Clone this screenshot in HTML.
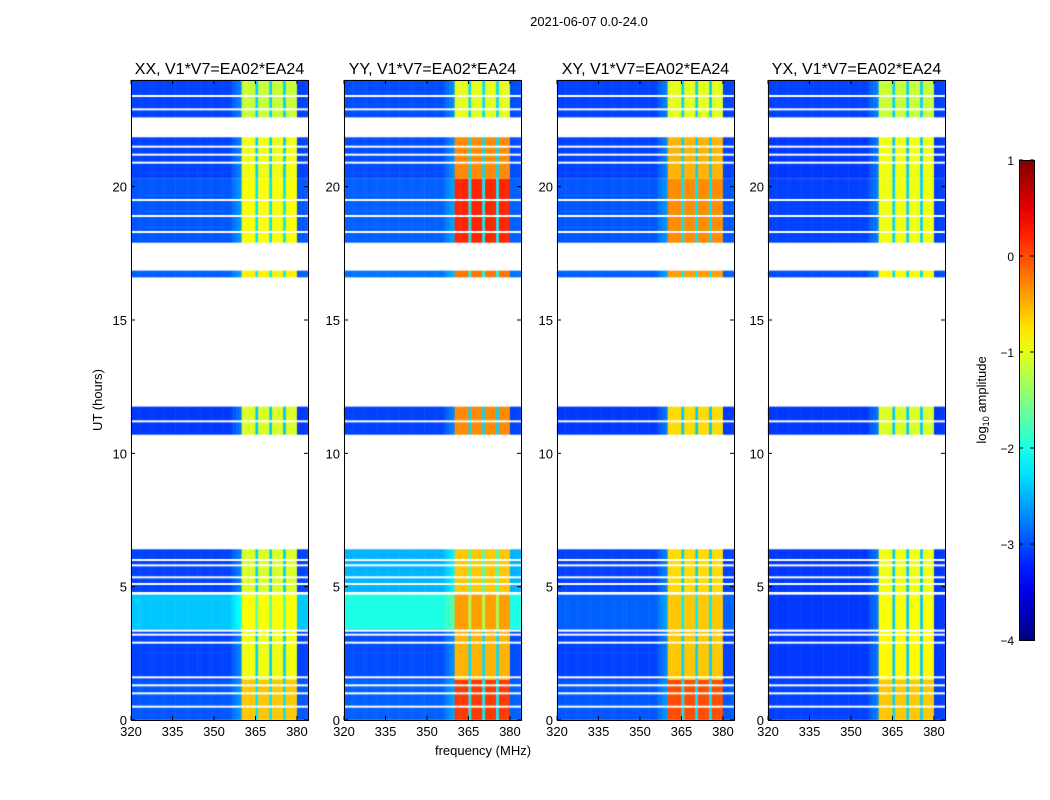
<!DOCTYPE html>
<html><head><meta charset="utf-8">
<style>
body{margin:0;background:#fff;width:1050px;height:800px;overflow:hidden;font-family:"Liberation Sans",sans-serif;}
#wrap{position:relative;width:1050px;height:800px;}
canvas{position:absolute;}
svg{position:absolute;left:0;top:0;}
</style></head>
<body>
<div id="wrap">
<svg id="ov" width="1050" height="800"></svg>
</div>
<script>
// ---- data ----
const panelNames = ["XX, V1*V7=EA02*EA24","YY, V1*V7=EA02*EA24","XY, V1*V7=EA02*EA24","YX, V1*V7=EA02*EA24"];
const segStart = [0, 1.5, 3.4, 4.8, 10.7, 16.6, 17.9, 20.3, 22.6];
const segEnd   = [1.5, 3.4, 4.7, 6.4, 11.75, 16.85, 20.3, 21.85, 24];
const bgXX = [-2.95,-3.05,-2.4,-3.05,-3.1,-2.9,-2.95,-3.05,-3.05];
const bgYY = [-2.9,-3.0,-2.0,-2.5,-3.05,-2.8,-2.9,-3.0,-3.0];
const bgXY = [-2.95,-3.05,-2.9,-3.05,-3.1,-2.9,-2.95,-3.05,-3.05];
const bgYX = [-3.05,-3.1,-3.1,-3.1,-3.1,-3.0,-3.05,-3.1,-3.05];
const bandXX = [-0.6,-0.95,-0.9,-1.05,-1.05,-0.8,-0.9,-0.95,-1.15];
const bandYY = [0.1,-0.5,-0.4,-0.6,-0.3,-0.2,0.2,-0.3,-1.0];
const bandXY = [0.0,-0.6,-0.6,-0.7,-0.7,-0.4,-0.3,-0.5,-1.0];
const bandYX = [-0.6,-0.85,-0.9,-0.95,-1.05,-0.85,-0.95,-0.95,-1.15];
const bgLevels = [bgXX,bgYY,bgXY,bgYX];
const bandLevels = [bandXX,bandYY,bandXY,bandYX];
const flaggedHours = [0.5,1.0,1.3,1.6,2.9,3.2,3.35,5.1,5.35,5.8,6.0,11.2,18.3,18.9,19.5,20.9,21.2,21.5,22.9,23.4];
const freqs = []; for(let f=320; f<384; f++) freqs.push(f);
const bandLo = 360.5, bandHi = 380;
const stripeFreqs = [365,370,375];
const xTicks = [320,335,350,365,380];
const yTicks = [0,5,10,15,20];
const cbTicks = [1,0,-1,-2,-3,-4];

// ---- layout ----
const panelX = [131,344,557,768], panelW = 177, plotTop = 80, plotBot = 720;
const xScale = (i,f)=> panelX[i] + (f-320)/64*panelW;
const yScale = h => plotBot - h/24*(plotBot-plotTop);
const vmin=-4, vmax=1;

function jet(v){
  let t=(v-vmin)/(vmax-vmin); t=Math.max(0,Math.min(1,t));
  const c=x=>Math.round(255*Math.max(0,Math.min(1,x)));
  return `rgb(${c(1.5-Math.abs(4*t-3))},${c(1.5-Math.abs(4*t-2))},${c(1.5-Math.abs(4*t-1))})`;
}
function value(p,s,f){
  const bg=bgLevels[p][s], band=bandLevels[p][s];
  if(f>=bandLo-0.5 && f<bandHi){
    if(stripeFreqs.includes(f)) return bg+0.7;
    return band;
  }
  if(f>=355 && f<bandLo) return bg+0.4*(f-355)/5;
  return bg;
}
const wrap=document.getElementById('wrap');
const ov=document.getElementById('ov');
const NS="http://www.w3.org/2000/svg";
function el(tag,attrs,text){const e=document.createElementNS(NS,tag);for(const k in attrs)e.setAttribute(k,attrs[k]);if(text!==undefined)e.textContent=text;ov.appendChild(e);return e;}

for(let p=0;p<4;p++){
  const cv=document.createElement('canvas');
  cv.width=1050;cv.height=800;cv.style.left='0';cv.style.top='0';
  
  
  wrap.insertBefore(cv,ov);
  const ctx=cv.getContext('2d');
  for(let s=0;s<segStart.length;s++){
    const y0=yScale(segEnd[s]), y1=yScale(segStart[s]);
    for(const f of freqs){
      ctx.fillStyle=jet(value(p,s,f));
      const x0=xScale(p,f), x1=xScale(p,f+1);
      ctx.fillRect(x0,y0,x1-x0+0.5,y1-y0);
    }
  }
  ctx.fillStyle='#fff';
  for(const h of flaggedHours){ctx.fillRect(panelX[p],yScale(h)-1,panelW,2);}
  const fr=el('rect',{x:panelX[p]+0.5,y:plotTop+0.5,width:panelW,height:plotBot-plotTop,fill:'none',stroke:'#000','stroke-width':1});
  
  
  const tt=el('text',{x:panelX[p]+panelW/2,y:74,'font-size':16,'text-anchor':'middle'},panelNames[p]);
  
  
  for(const t of xTicks){
    const x=xScale(p,t);
    el('line',{x1:x,x2:x,y1:plotBot,y2:plotBot-4,stroke:'#000'});
    el('line',{x1:x,x2:x,y1:plotTop,y2:plotTop+4,stroke:'#000'});
    const lb=el('text',{x:x,y:plotBot+16,'font-size':13,'text-anchor':'middle'},t);
    
    
  }
  for(const t of yTicks){
    const y=yScale(t);
    el('line',{x1:panelX[p],x2:panelX[p]+4,y1:y,y2:y,stroke:'#000'});
    el('line',{x1:panelX[p]+panelW,x2:panelX[p]+panelW-4,y1:y,y2:y,stroke:'#000'});
    const lb=el('text',{x:panelX[p]-4,y:y+5,'font-size':13,'text-anchor':'end'},t);
    
    
  }
}
const st=el('text',{x:589,y:26,'font-size':13,'text-anchor':'middle'},'2021-06-07 0.0-24.0');


const xl=el('text',{x:483,y:755,'font-size':13,'text-anchor':'middle'},'frequency (MHz)');


const yl=el('text',{x:0,y:0,'font-size':13,'text-anchor':'middle',transform:'translate(102,400) rotate(-90)'},'UT (hours)');



// colorbar
const cbX=1019,cbW=15,cbTop=160,cbBot=640;
const cbScale=v=>cbBot-(v-vmin)/(vmax-vmin)*(cbBot-cbTop);
const defs=el('defs',{});
const grad=document.createElementNS(NS,'linearGradient');
grad.setAttribute('id','jetg');grad.setAttribute('x1','0');grad.setAttribute('y1','1');grad.setAttribute('x2','0');grad.setAttribute('y2','0');
defs.appendChild(grad);
for(let i=0;i<=20;i++){const s=document.createElementNS(NS,'stop');s.setAttribute('offset',i/20);s.setAttribute('stop-color',jet(vmin+(vmax-vmin)*i/20));grad.appendChild(s);}
const cb=el('rect',{x:cbX+0.5,y:cbTop+0.5,width:cbW,height:cbBot-cbTop,fill:'url(#jetg)',stroke:'#000'});


for(const t of cbTicks){
  const y=cbScale(t);
  el('line',{x1:cbX,x2:cbX+4,y1:y,y2:y,stroke:'#000'});
  el('line',{x1:cbX+cbW,x2:cbX+cbW-4,y1:y,y2:y,stroke:'#000'});
  const lb=el('text',{x:cbX-5,y:y+5,'font-size':12,'text-anchor':'end'},t<0?'\u2212'+(-t):t);
  
  
}
const cl=el('text',{x:0,y:0,'font-size':13,'text-anchor':'middle',transform:'translate(986,400) rotate(-90)'});


cl.innerHTML='log<tspan font-size="9" dy="3">10</tspan><tspan dy="-3"> amplitude</tspan>';
</script>
</body></html>
